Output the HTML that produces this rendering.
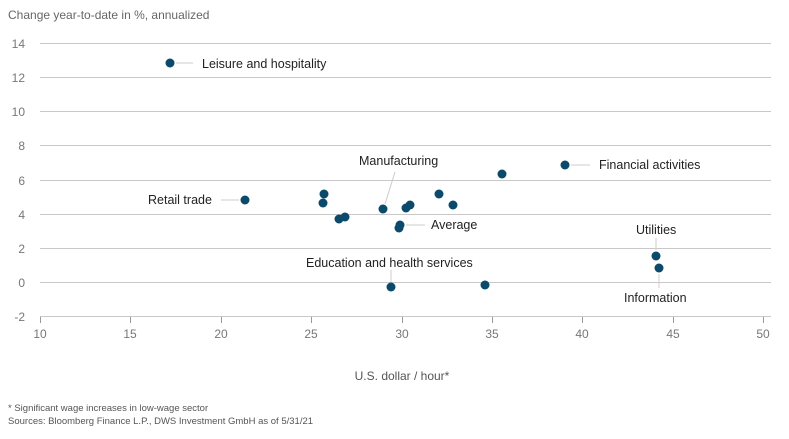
<!DOCTYPE html><html><head><style>body{margin:0;background:#fff}</style></head><body>
<svg width="789" height="434" xmlns="http://www.w3.org/2000/svg" font-family="Liberation Sans, sans-serif">
<text x="8" y="19" font-size="12" fill="#666">Change year-to-date in %, annualized</text>
<g stroke="#c8c8c8" stroke-width="1">
<line x1="40" x2="771" y1="43.5" y2="43.5"/><line x1="40" x2="771" y1="77.5" y2="77.5"/><line x1="40" x2="771" y1="111.5" y2="111.5"/><line x1="40" x2="771" y1="145.5" y2="145.5"/><line x1="40" x2="771" y1="180.5" y2="180.5"/><line x1="40" x2="771" y1="214.5" y2="214.5"/><line x1="40" x2="771" y1="248.5" y2="248.5"/><line x1="40" x2="771" y1="282.5" y2="282.5"/><line x1="40" x2="771" y1="316.5" y2="316.5"/>
</g>
<g stroke="#999"><line x1="40.5" x2="40.5" y1="317" y2="323"/><line x1="130.5" x2="130.5" y1="317" y2="323"/><line x1="221.5" x2="221.5" y1="317" y2="323"/><line x1="311.5" x2="311.5" y1="317" y2="323"/><line x1="402.5" x2="402.5" y1="317" y2="323"/><line x1="492.5" x2="492.5" y1="317" y2="323"/><line x1="582.5" x2="582.5" y1="317" y2="323"/><line x1="673.5" x2="673.5" y1="317" y2="323"/><line x1="763.5" x2="763.5" y1="317" y2="323"/></g>
<g font-size="12" fill="#777" text-anchor="end">
<text x="25" y="48">14</text><text x="25" y="82">12</text><text x="25" y="116">10</text><text x="25" y="150">8</text><text x="25" y="185">6</text><text x="25" y="219">4</text><text x="25" y="253">2</text><text x="25" y="287">0</text><text x="25" y="321">-2</text>
</g>
<g font-size="12" fill="#777" text-anchor="middle">
<text x="40" y="338">10</text><text x="130" y="338">15</text><text x="221" y="338">20</text><text x="311" y="338">25</text><text x="402" y="338">30</text><text x="492" y="338">35</text><text x="582" y="338">40</text><text x="673" y="338">45</text><text x="763" y="338">50</text>
<text x="402" y="380" fill="#555">U.S. dollar / hour*</text>
</g>
<g stroke="#ccc" stroke-width="1">
<line x1="176" x2="193" y1="63" y2="63"/><line x1="221" x2="239" y1="200" y2="200"/><line x1="385" x2="395" y1="204" y2="172"/><line x1="406" x2="425" y1="225" y2="225"/><line x1="391" x2="391" y1="270" y2="282"/><line x1="656" x2="656" y1="238" y2="250"/><line x1="659" x2="659" y1="274" y2="288"/><line x1="571" x2="590" y1="165" y2="165"/>
</g>
<g fill="#0b4a6b">
<circle cx="170" cy="63" r="4.5"/><circle cx="245" cy="200" r="4.5"/><circle cx="324" cy="194" r="4.5"/><circle cx="323" cy="203" r="4.5"/><circle cx="339" cy="219" r="4.5"/><circle cx="345" cy="217" r="4.5"/><circle cx="383" cy="209" r="4.5"/><circle cx="406" cy="208" r="4.5"/><circle cx="410" cy="205" r="4.5"/><circle cx="399" cy="228" r="4.5"/><circle cx="400" cy="225" r="4.5"/><circle cx="439" cy="194" r="4.5"/><circle cx="453" cy="205" r="4.5"/><circle cx="502" cy="174" r="4.5"/><circle cx="565" cy="165" r="4.5"/><circle cx="391" cy="287" r="4.5"/><circle cx="485" cy="285" r="4.5"/><circle cx="656" cy="256" r="4.5"/><circle cx="659" cy="268" r="4.5"/>
</g>
<g font-size="12.5" fill="#222">
<text x="202" y="68">Leisure and hospitality</text>
<text x="148" y="204">Retail trade</text>
<text x="359" y="165">Manufacturing</text>
<text x="431" y="229">Average</text>
<text x="306" y="267">Education and health services</text>
<text x="599" y="169">Financial activities</text>
<text x="636" y="234">Utilities</text>
<text x="624" y="302">Information</text>
</g>
<text x="8" y="411" font-size="9.5" fill="#555">* Significant wage increases in low-wage sector</text>
<text x="8" y="424" font-size="9.5" fill="#555">Sources: Bloomberg Finance L.P., DWS Investment GmbH as of 5/31/21</text>
</svg>
</body></html>
